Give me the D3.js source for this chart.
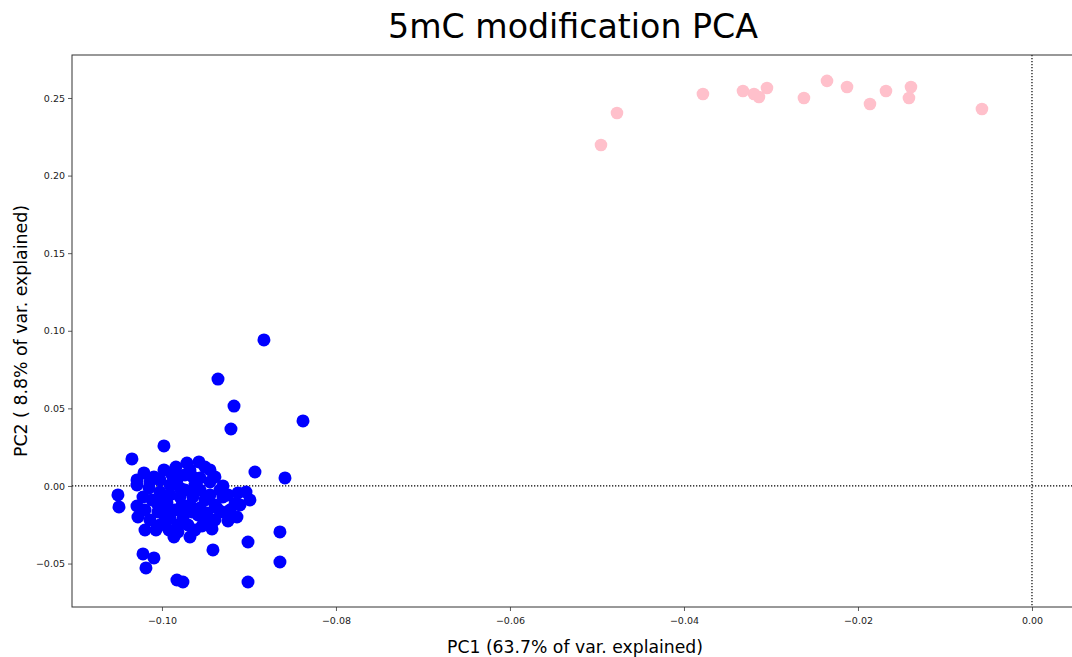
<!DOCTYPE html>
<html>
<head>
<meta charset="utf-8">
<script src="https://cdn.jsdelivr.net/npm/d3@7"></script>
<style>
  html, body { margin: 0; padding: 0; background: #fff; }
  svg { display: block; }
</style>
</head>
<body>
<div id="chart"></div>
<script>
// ---- Data ----
const titleText = "5mC modification PCA";
const xLabelText = "PC1 (63.7% of var. explained)";
const yLabelText = "PC2 ( 8.8% of var. explained)";

const xTicks = [-0.10, -0.08, -0.06, -0.04, -0.02, 0.00];
const yTicks = [-0.05, 0.00, 0.05, 0.10, 0.15, 0.20, 0.25];

// Group 1 (blue)
const bluePC1 = [
  -0.08828, -0.09356, -0.09172, -0.09207, -0.08379, -0.09977, -0.10345, -0.08931, -0.08586, -0.10506,
  -0.10494, -0.08644, -0.08644, -0.09011, -0.09414, -0.10218, -0.10092, -0.10184, -0.09828, -0.09759,
  -0.09011, -0.10287, -0.10287, -0.10207, -0.10092, -0.09977, -0.09839, -0.09713, -0.09575, -0.09506,
  -0.09644, -0.09448, -0.09299, -0.09299, -0.09126, -0.09034, -0.08989, -0.09161, -0.10149, -0.10023,
  -0.10287, -0.10218, -0.10276, -0.10195, -0.10069, -0.09920, -0.09862, -0.09678, -0.09540, -0.09425,
  -0.09241, -0.09138, -0.09368, -0.09483, -0.09759, -0.10046, -0.09828, -0.09793, -0.09943, -0.09644,
  -0.09563, -0.09908, -0.09736, -0.09851, -0.09678, -0.09586, -0.09966, -0.10115, -0.10023, -0.09736,
  -0.09621, -0.09448, -0.09391, -0.09506, -0.09908, -0.10138, -0.09851, -0.09448, -0.09218, -0.09701,
  -0.09816, -0.09563, -0.09954, -0.09770, -0.09333, -0.10046, -0.10195, -0.09621, -0.09793, -0.09655,
  -0.10138, -0.09885, -0.09678, -0.09391, -0.09241, -0.09391, -0.09563, -0.09736, -0.09908, -0.10023,
  -0.09506, -0.09310, -0.09816, -0.09989, -0.09655, -0.09103
];
const bluePC2 = [
   0.0941,  0.0689,  0.0515,  0.0367,  0.0419,  0.0258,  0.0174,  0.0090,  0.0052, -0.0058,
  -0.0135, -0.0296, -0.0490, -0.0361, -0.0412, -0.0438, -0.0464, -0.0528, -0.0606, -0.0619,
  -0.0619,  0.0039,  0.0006,  0.0084,  0.0058,  0.0103,  0.0122,  0.0148,  0.0155,  0.0122,
   0.0058,  0.0026,  0.0000, -0.0071, -0.0045, -0.0039, -0.0090, -0.0116, -0.0013, -0.0039,
  -0.0129, -0.0071, -0.0200, -0.0284, -0.0284, -0.0284, -0.0329, -0.0329, -0.0258, -0.0277,
  -0.0226, -0.0200, -0.0142, -0.0174, -0.0206, -0.0168,  0.0039, -0.0071, -0.0110, -0.0071,
  -0.0026,  0.0006, -0.0026, -0.0155, -0.0122, -0.0187, -0.0219, -0.0090,  0.0039,  0.0071,
   0.0006, -0.0058, -0.0219, -0.0090, -0.0058, -0.0219,  0.0103,  0.0103, -0.0155, -0.0251,
  -0.0251,  0.0052, -0.0168, -0.0122, -0.0026, -0.0122, -0.0155, -0.0284, -0.0013, -0.0168,
   0.0026,  0.0071,  0.0103,  0.0058, -0.0058, -0.0122, -0.0142, -0.0168, -0.0206, -0.0251,
  -0.0219, -0.0168, -0.0296, -0.0071, -0.0039, -0.0122
];

// Group 2 (pink)
const pinkPC1 = [
  -0.04954, -0.04770, -0.03782, -0.03322, -0.03195, -0.03138, -0.03046, -0.02621,
  -0.02356, -0.02126, -0.01862, -0.01678, -0.01391, -0.01414, -0.00575
];
const pinkPC2 = [
  0.2197, 0.2403, 0.2526, 0.2545, 0.2526, 0.2506, 0.2564, 0.2500,
  0.2610, 0.2571, 0.2461, 0.2545, 0.2571, 0.2500, 0.2429
];

// ---- Layout ----
const W = 1072, H = 657;
const plot = { left: 72, top: 55, right: 1078, bottom: 607 };

const svg = d3.select("#chart").append("svg")
  .attr("width", W).attr("height", H);

const x = d3.scaleLinear().domain([-0.11034, 0.00529]).range([plot.left, plot.right]);
const y = d3.scaleLinear().domain([-0.0780, 0.2777]).range([plot.bottom, plot.top]);

const font = "'DejaVu Sans', sans-serif";
const fmt = d3.format(".2f");

// Title
svg.append("text")
  .attr("x", 573).attr("y", 38)
  .attr("text-anchor", "middle")
  .attr("font-family", font).attr("font-size", 34)
  .attr("textLength", 370).attr("lengthAdjust", "spacingAndGlyphs")
  .attr("fill", "#000")
  .text(titleText);

// Clip
svg.append("clipPath").attr("id", "clip")
  .append("rect")
  .attr("x", plot.left).attr("y", plot.top)
  .attr("width", plot.right - plot.left).attr("height", plot.bottom - plot.top);

const g = svg.append("g").attr("clip-path", "url(#clip)");

// Reference dotted lines
g.append("line")
  .attr("x1", plot.left).attr("x2", plot.right)
  .attr("y1", y(0)).attr("y2", y(0))
  .attr("stroke", "#000").attr("stroke-width", 1.2)
  .attr("stroke-dasharray", "1.3,1.7");
g.append("line")
  .attr("x1", x(0)).attr("x2", x(0))
  .attr("y1", plot.top).attr("y2", plot.bottom)
  .attr("stroke", "#000").attr("stroke-width", 1.2)
  .attr("stroke-dasharray", "1.3,1.7");

// Points
const blue = bluePC1.map((v, i) => ({ x: v, y: bluePC2[i] }));
const pink = pinkPC1.map((v, i) => ({ x: v, y: pinkPC2[i] }));

g.selectAll("circle.blue").data(blue).join("circle")
  .attr("class", "blue")
  .attr("cx", d => x(d.x)).attr("cy", d => y(d.y))
  .attr("r", 6.5).attr("fill", "#0000ff");

g.selectAll("circle.pink").data(pink).join("circle")
  .attr("class", "pink")
  .attr("cx", d => x(d.x)).attr("cy", d => y(d.y))
  .attr("r", 6.3).attr("fill", "#ffc0cb");

// Axes
const xAxis = d3.axisBottom(x).tickValues(xTicks).tickFormat(fmt).tickSize(4).tickSizeOuter(0);
const yAxis = d3.axisLeft(y).tickValues(yTicks).tickFormat(fmt).tickSize(4).tickSizeOuter(0);

const gx = svg.append("g").attr("transform", `translate(0,${plot.bottom})`).call(xAxis);
const gy = svg.append("g").attr("transform", `translate(${plot.left},0)`).call(yAxis);

[gx, gy].forEach(a => {
  a.select(".domain").remove();
  a.selectAll(".tick line").attr("stroke", "#333").attr("stroke-width", 0.8);
  a.selectAll(".tick text").attr("font-family", font).attr("font-size", 9.5).attr("fill", "#222");
});
gx.selectAll(".tick text").attr("dy", "1.1em");
gy.selectAll(".tick text").attr("x", -7);

// Frame (spines)
svg.append("rect")
  .attr("x", plot.left).attr("y", plot.top)
  .attr("width", plot.right - plot.left).attr("height", plot.bottom - plot.top)
  .attr("fill", "none").attr("stroke", "#333").attr("stroke-width", 1);

// Axis labels
svg.append("text")
  .attr("x", 575).attr("y", 653)
  .attr("text-anchor", "middle")
  .attr("font-family", font).attr("font-size", 18)
  .attr("textLength", 256).attr("lengthAdjust", "spacingAndGlyphs")
  .attr("fill", "#000")
  .text(xLabelText);

svg.append("text")
  .attr("transform", `translate(27,${(plot.top + plot.bottom) / 2}) rotate(-90)`)
  .attr("text-anchor", "middle")
  .attr("font-family", font).attr("font-size", 18)
  .attr("textLength", 252).attr("lengthAdjust", "spacingAndGlyphs")
  .attr("fill", "#000")
  .text(yLabelText);
</script>
</body>
</html>
